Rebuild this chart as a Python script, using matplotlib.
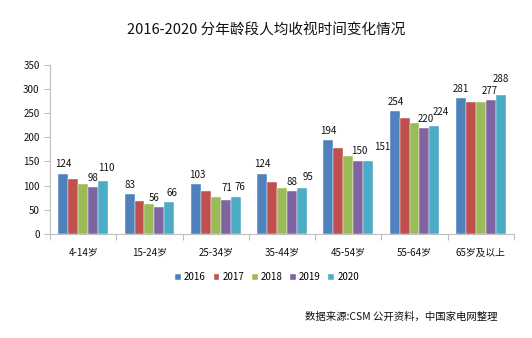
import matplotlib.pyplot as plt
import numpy as np

plt.rcParams['font.family'] = ['Noto Sans CJK SC', 'DejaVu Sans']
plt.rcParams['axes.unicode_minus'] = False

# 年龄段与各年度人均收视时间（分钟）
age_groups = ['4-14岁', '15-24岁', '25-34岁', '35-44岁', '45-54岁', '55-64岁', '65岁及以上']
years = ['2016', '2017', '2018', '2019', '2020']
v2016 = [124, 83, 103, 124, 194, 254, 281]
v2017 = [114, 69, 89, 108, 177, 241, 273]
v2018 = [104, 61, 77, 95, 162, 230, 274]
v2019 = [98, 56, 71, 88, 150, 220, 277]
v2020 = [110, 66, 76, 95, 151, 224, 288]
series = [v2016, v2017, v2018, v2019, v2020]

# 只标注 2016、2019、2020 三个年份
labeled_years = [0, 3, 4]

colors = ['#4F81BD', '#C0504D', '#9BBB59', '#8064A2', '#4BACC6']

# 数值标签相对柱顶的偏移（像素），按 [年龄段][年份]
label_offsets = {
    (0, 0): (0, 10), (0, 3): (0, 9), (0, 4): (3, 13),
    (1, 0): (0, 9), (1, 3): (-5, 9), (1, 4): (3, 9),
    (2, 0): (2, 9), (2, 3): (1, 12), (2, 4): (4, 10),
    (3, 0): (0, 10), (3, 3): (0, 9), (3, 4): (6, 11),
    (4, 0): (0, 9), (4, 3): (1, 10), (4, 4): (14, 14),
    (5, 0): (1, 9), (5, 3): (1, 9), (5, 4): (6, 14),
    (6, 0): (0, 9), (6, 3): (-1, 9), (6, 4): (0, 16),
}

fig = plt.figure(figsize=(5.32, 3.38), dpi=100)
ax = fig.add_axes([0.094, 0.308, 0.872, 0.5])

x = np.arange(len(age_groups))
w = 0.15
for i, vals in enumerate(series):
    pos = x + (i - 2) * w
    bars = ax.bar(pos, vals, width=w, color=colors[i], label=years[i],
                  edgecolor='white', linewidth=0.3)
    if i in labeled_years:
        for j, b in enumerate(bars):
            dx, dy = label_offsets[(j, i)]
            ax.annotate(str(vals[j]), (b.get_x() + b.get_width() / 2, vals[j]),
                        xytext=(dx, dy), textcoords='offset pixels',
                        ha='center', va='center', fontsize=7, color='#111111')

ax.set_xlim(-0.5, len(age_groups) - 0.5)
ax.set_ylim(0, 350)
ax.set_yticks(range(0, 351, 50))

# 分隔刻度放在组与组之间，类别名放在组中心
ax.set_xticks(np.arange(-0.5, len(age_groups), 1))
ax.set_xticklabels([])
ax.set_xticks(x, minor=True)
ax.set_xticklabels(age_groups, minor=True)
ax.tick_params(axis='x', which='minor', length=0, pad=10, labelsize=7, labelcolor='#111111')
ax.tick_params(axis='x', which='major', length=4, color='#BFBFBF')
ax.tick_params(axis='y', length=4, color='#BFBFBF', labelsize=7, labelcolor='#111111')

for s in ['top', 'right']:
    ax.spines[s].set_visible(False)
for s in ['left', 'bottom']:
    ax.spines[s].set_color('#BFBFBF')

fig.text(0.5, 0.91, '2016-2020 分年龄段人均收视时间变化情况',
         ha='center', va='center', fontsize=10.5, color='#111111')

ax.legend(loc='center', bbox_to_anchor=(0.502, 0.18), bbox_transform=fig.transFigure,
          ncol=5, frameon=False, fontsize=7, handlelength=0.6, handleheight=0.6,
          handletextpad=0.3, columnspacing=0.8)

fig.text(0.936, 0.062, '数据来源:CSM 公开资料，中国家电网整理',
         ha='right', va='center', fontsize=7.5, color='#111111')

fig.savefig('out.png', dpi=100, facecolor='white')
